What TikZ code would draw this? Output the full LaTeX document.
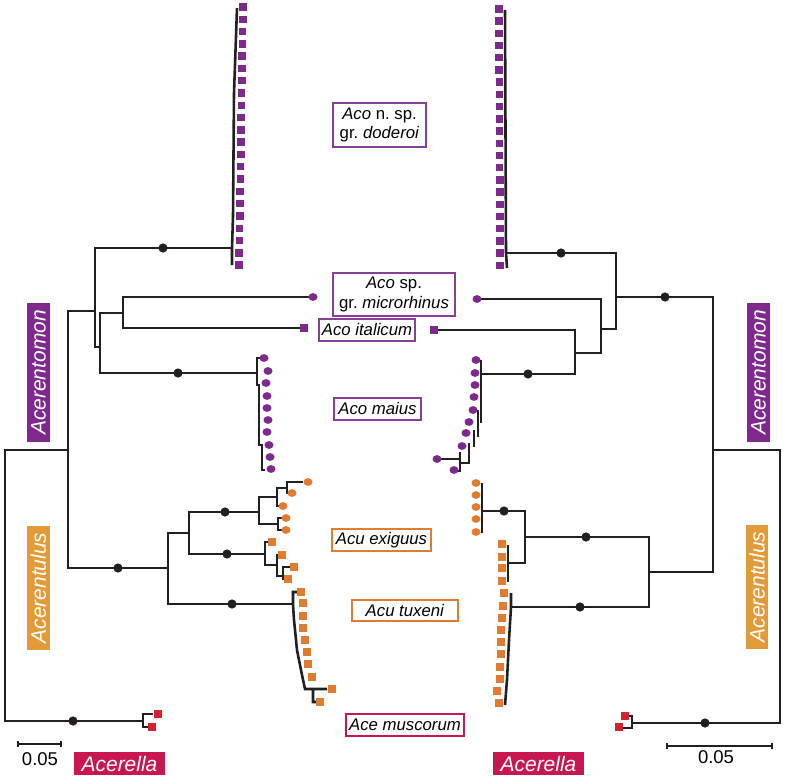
\documentclass[tikz,border=0pt]{standalone}
\usepackage{fontspec}
\setmainfont{Liberation Sans}
\usetikzlibrary{arrows.meta}
\definecolor{acoP}{HTML}{7D2A8C}
\definecolor{acuO}{HTML}{E07B30}
\definecolor{acuG}{HTML}{E39B38}
\definecolor{aceR}{HTML}{D52030}
\definecolor{aceC}{HTML}{C8174F}
\definecolor{brc}{HTML}{231F20}
\newcommand{\pxu}{0.3mm}
\begin{document}
\begin{tikzpicture}[x=0.3mm,y=-0.3mm,
    branch/.style={draw=brc, line width=2.2pt},
    boot/.style={fill=brc},
    taxbox/.style={draw=#1, line width=1.1pt, fill=white, inner sep=0pt, align=center, font=\fontsize{14.3}{16.5}\selectfont},
    genbox/.style={fill=#1, text=white, inner sep=0pt, font=\fontsize{17.9}{18}\selectfont\itshape},
    scalebar/.style={draw=brc, line width=1.5pt, arrows={Bar[width=5pt]-Bar[width=5pt]}},
    scalelab/.style={font=\fontsize{15.8}{16}\selectfont, inner sep=0pt}]
    \useasboundingbox (0,0) rectangle (786,780);

    % left tree
    \foreach \n/\x/\y in {lroot/5/600, lAA/68/450, lAce/143/721, lAcm/95/311, lAcu/168/568,
        ldod/232/248, lAcm2/100/347, lmi/123/313, lmai/257/373, lmic/309/297, lita/300/328,
        lAcu2/189/533, ltux/293/604, lexi/259/512, lsq/265/554, lexa/277/497, lexb/278/524,
        lexc/287/488, lsq2/277/565, lsq3/283/576, lexc1/303/482, lexc2/289/493, lexa2/281/506,
        lexb1/282/518, lexb2/282/530, lsq1/269/542, lsq21/279/555, lsq31/291/567, lsq32/285/579,
        lAce1/153/714, lAce2/148/727}
        \coordinate (\n) at (\x,\y);

    \draw[branch] (lAA) -| (lroot) |- (lAce);
    \draw[branch] (lAcm) -| (lAA) |- (lAcu);
    \draw[branch] (ldod) -| (lAcm) |- (lAcm2);
    \draw[branch] (lmi) -| (lAcm2) |- (lmai);
    \draw[branch] (lmic) -| (lmi) |- (lita);
    \draw[branch] (lAcu2) -| (lAcu) |- (ltux);
    \draw[branch] (lexi) -| (lAcu2) |- (lsq);
    \draw[branch] (lexa) -| (lexi) |- (lexb);
    \draw[branch] (lexc) -| (lexa) |- (lexa2);
    \draw[branch] (lexc1) -| (lexc) |- (lexc2);
    \draw[branch] (lexb1) -| (lexb) |- (lexb2);
    \draw[branch] (lsq1) -| (lsq) |- (lsq2);
    \draw[branch] (lsq21) -| (lsq2) |- (lsq3);
    \draw[branch] (lsq31) -| (lsq3) |- (lsq32);
    \draw[branch] (lAce1) -| (lAce) |- (lAce2);
    \draw[branch] (ldod) -- (232,265) (ldod) -- (233,216) -- (234,93) -- (237,8);
    \draw[branch] (lmai) -- (257,358) -- (262,358) (lmai) -- (257,385) -- (259,385) -- (259,445) -- (262,445) -- (262,470) -- (265,470);
    \draw[branch] (ltux) -- (293,592) -- (297,592) (ltux) -- (294,620) -- (297,650) -- (302,675) -- (305,689) -- (327,689) (313,689) -- (313,702) -- (317,702);

    % right tree
    \foreach \n/\x/\y in {rroot/780/585, rAA/713/450, rAce/632/723, rAcm/616/297, rAcu/649/572,
        rdod/506/253, rAcm2/601/329, rmic/481/299, rma/575/353, rita/438/330, rmai/481/374,
        rAcu2/525/537, rtux/511/607, rexi/482/511, rsq/508/563, rAce1/628/716, rAce2/622/728}
        \coordinate (\n) at (\x,\y);

    \draw[branch] (rAA) -| (rroot) |- (rAce);
    \draw[branch] (rAcm) -| (rAA) |- (rAcu);
    \draw[branch] (rdod) -| (rAcm) |- (rAcm2);
    \draw[branch] (rmic) -| (rAcm2) |- (rma);
    \draw[branch] (rita) -| (rma) |- (rmai);
    \draw[branch] (rAcu2) -| (rAcu) |- (rtux);
    \draw[branch] (rexi) -| (rAcu2) |- (rsq);
    \draw[branch] (rAce1) -| (rAce) |- (rAce2);
    \draw[branch] (rdod) -- (505,10) (rdod) -- (507,268);
    \draw[branch] (rexi) -- (482,483) (rexi) -- (482,533);
    \draw[branch] (rsq) -- (508,545) (rsq) -- (508,582);
    \draw[branch] (rtux) -- (511,593) (rtux) -- (509,640) -- (507,680) -- (505,705);
    \draw[branch] (rmai) -- (481,360) (rmai) -- (481,423) (478,410) -- (478,437) (474,430) -- (474,447)
        (469,443) -- (469,463) -- (460,463) (460,452) -- (460,471) -- (457,471) (441,459) -- (460,459);

    % support dots
    \foreach \x/\y in {163/248, 178/373, 118/568, 225/512, 227/554, 232/604, 73/721,
        561/253, 665/297, 528/374, 586/537, 504/511, 580/607, 705/723}
        \fill[boot] (\x,\y) circle (4.6);

    % tips
    \foreach \i in {0,...,21} {
        \fill[acoP] (243-\i*0.19,7+\i*12.29) ++(-3.8,-3.7) rectangle ++(7.6,7.4);
        \fill[acoP] (499+\i*0.05,9+\i*12.2) ++(-3.8,-3.7) rectangle ++(7.6,7.4);
    }
    \foreach \x/\y in {304/328, 434/330}
        \fill[acoP] (\x,\y) ++(-3.8,-3.7) rectangle ++(7.6,7.4);
    \foreach \x/\y in {313/297, 477/299, 264/358, 268/371, 266/383, 267/396, 267/408, 268/420,
        267/432, 269/445, 270/457, 271/469, 476/360, 475/373, 475/385, 474/397, 473/410,
        469/422, 466/433, 462/446, 437/459, 454/470}
        \fill[acoP] (\x,\y) ellipse (4.5 and 3.9);
    \foreach \x/\y in {308/482, 292/493, 283/506, 286/518, 286/530,
        476/483, 476/495, 476/507, 476/519, 476/532}
        \fill[acuO] (\x,\y) ellipse (4.5 and 3.9);
    \foreach \x/\y in {272/542, 282/555, 294/567, 288/579, 301/592, 303/603, 303/616, 303/628,
        305/640, 307/652, 308/664, 312/677, 332/689, 320/702,
        502/544, 502/557, 502/568, 502/581, 504/593, 503/606, 502/618, 501/630, 501/642,
        501/654, 500/667, 500/679, 497/691, 499/703}
        \fill[acuO] (\x,\y) ++(-3.8,-3.7) rectangle ++(7.6,7.4);
    \foreach \x/\y in {158/714, 152/727, 625/716, 619/727}
        \fill[aceR] (\x,\y) ++(-3.8,-3.7) rectangle ++(7.6,7.4);

    % species boxes
    \node[taxbox=acoP!90, minimum width=93*\pxu, minimum height=44*\pxu] (dod) at (379.5,125) {\textit{Aco} n.\ sp.\\gr.\ \textit{doderoi}};
    \node[taxbox=acoP!90, minimum width=122*\pxu, minimum height=43*\pxu] (mic) at (394,294.5) {\textit{Aco} sp.\\gr.\ \textit{microrhinus}};
    \node[taxbox=acoP!90, minimum width=96*\pxu, minimum height=22*\pxu] (ita) at (367,330) {\textit{Aco italicum}};
    \node[taxbox=acoP!90, minimum width=87*\pxu, minimum height=22*\pxu] (mai) at (377.5,409) {\textit{Aco maius}};
    \node[taxbox=acuO, minimum width=99*\pxu, minimum height=22*\pxu] (exi) at (381.5,540) {\textit{Acu exiguus}};
    \node[taxbox=acuO, minimum width=106*\pxu, minimum height=21*\pxu] (tux) at (405,610.5) {\textit{Acu tuxeni}};
    \node[taxbox=aceC, minimum width=118*\pxu, minimum height=22*\pxu] (mus) at (405,725) {\textit{Ace muscorum}};

    % genus labels
    \node[genbox=acoP, rotate=90, minimum width=139*\pxu, minimum height=23*\pxu] (lAcmlab) at (38.5,372.5) {Acerentomon};
    \node[genbox=acuG, rotate=90, minimum width=124*\pxu, minimum height=23*\pxu] (lAculab) at (38.5,588) {Acerentulus};
    \node[genbox=aceC, minimum width=91*\pxu, minimum height=23*\pxu] (lAcelab) at (119.5,763.5) {Acerella};
    \node[genbox=acoP, rotate=90, minimum width=139*\pxu, minimum height=23*\pxu] (rAcmlab) at (758.5,372.5) {Acerentomon};
    \node[genbox=acuG, rotate=90, minimum width=124*\pxu, minimum height=22*\pxu] (rAculab) at (757,587) {Acerentulus};
    \node[genbox=aceC, minimum width=91*\pxu, minimum height=23*\pxu] (rAcelab) at (538.5,763.5) {Acerella};

    % scale bars
    \coordinate (sbl1) at (17,744);
    \coordinate (sbl2) at (62,744);
    \coordinate (sbr1) at (666,746);
    \coordinate (sbr2) at (773,746);
    \draw[scalebar] (sbl1) -- (sbl2);
    \draw[scalebar] (sbr1) -- (sbr2);
    \node[scalelab] (sbll) at (40,759) {0.05};
    \node[scalelab] (sbrl) at (716,757) {0.05};
\end{tikzpicture}
\end{document}
